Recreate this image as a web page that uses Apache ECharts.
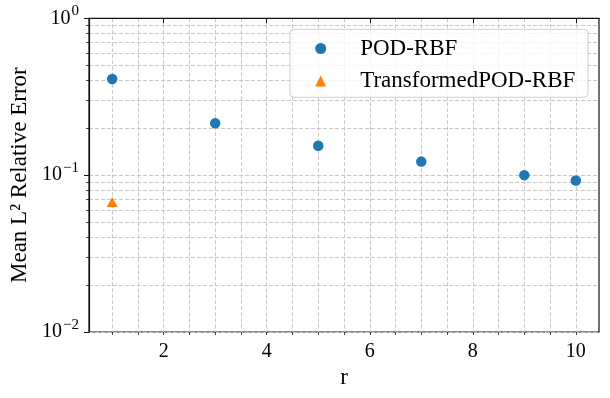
<!DOCTYPE html>
<html>
<head>
<meta charset="utf-8">
<script src="https://cdn.jsdelivr.net/npm/echarts@6/dist/echarts.min.js"></script>
<style>
  html, body { margin: 0; padding: 0; background: #fff; }
  #chart { width: 610px; height: 398px; }
</style>
</head>
<body>
<div id="chart"></div>
<script>
const rValues = [1, 3, 5, 7, 9, 10];
const podRbfError = [0.41, 0.214, 0.154, 0.122, 0.1, 0.0925];
const transformedR = [1];
const transformedError = [0.0675];
const xLabelTicks = [2, 4, 6, 8, 10];
const xMinorTicks = [1, 1.5, 2, 2.5, 3, 3.5, 4, 4.5, 5, 5.5, 6, 6.5, 7, 7.5, 8, 8.5, 9, 9.5, 10];
const yMinorTicks = [0.02, 0.03, 0.04, 0.05, 0.06, 0.07, 0.08, 0.09, 0.2, 0.3, 0.4, 0.5, 0.6, 0.7, 0.8, 0.9];

const FONT = 'Liberation Serif';
const gridDash = { color: '#c8c8c8', width: 1, type: [4, 2] };

const chart = echarts.init(document.getElementById('chart'));

// minor y grid on a helper value axis in log10 space
const yMinorPos = yMinorTicks.map(v => Math.log10(v));

const option = {
  animation: false,
  grid: { left: 87, right: 11, top: 18.3, bottom: 66, show: true, borderColor: '#111', borderWidth: 1.2, containLabel: false },
  xAxis: [
    {
      type: 'value', min: 0.55, max: 10.45, position: 'bottom',
      name: 'r', nameLocation: 'middle', nameGap: 34,
      nameTextStyle: { fontFamily: FONT, fontSize: 23, color: '#000' },
      axisLine: { show: true, lineStyle: { color: '#111', width: 1.2 } },
      axisTick: { show: true, length: 5, customValues: xLabelTicks, lineStyle: { color: '#111', width: 1 } },
      axisLabel: { customValues: xLabelTicks, margin: 10, fontFamily: FONT, fontSize: 20, color: '#000' },
      splitLine: { show: false }
    },
    {
      type: 'value', min: 0.55, max: 10.45, position: 'bottom', offset: 0,
      axisLine: { show: false },
      axisTick: { show: true, length: 3, customValues: xMinorTicks, lineStyle: { color: '#111', width: 0.8 } },
      axisLabel: { show: false },
      splitLine: { show: true, customValues: xMinorTicks, lineStyle: gridDash }
    }
  ],
  yAxis: [
    {
      type: 'log', logBase: 10, min: 0.01, max: 1, position: 'left',
      name: 'Mean L² Relative Error', nameLocation: 'middle', nameGap: 58,
      nameTextStyle: { fontFamily: FONT, fontSize: 23, color: '#000' },
      axisLine: { show: true, lineStyle: { color: '#111', width: 1.2 } },
      axisTick: { show: true, length: 5, lineStyle: { color: '#111', width: 1 } },
      axisLabel: {
        margin: 10,
        formatter: v => {
          const e = Math.round(Math.log10(v));
          return '{b|10}{s|' + (e < 0 ? '\u2212' + (-e) : e) + '}';
        },
        rich: {
          b: { fontFamily: FONT, fontSize: 20, color: '#000' },
          s: { fontFamily: FONT, fontSize: 15, color: '#000', padding: [0, 0, 14, 1] }
        }
      },
      splitLine: { show: true, lineStyle: gridDash }
    },
    {
      type: 'value', min: -2, max: 0, position: 'left', offset: 0,
      axisLine: { show: false },
      axisTick: { show: true, length: 3, customValues: yMinorPos, lineStyle: { color: '#111', width: 0.8 } },
      axisLabel: { show: false },
      splitLine: { show: true, customValues: yMinorPos, lineStyle: gridDash }
    }
  ],
  legend: {
    data: ['POD-RBF', 'TransformedPOD-RBF'],
    orient: 'vertical',
    left: 315.2, top: 37,
    padding: 0,
    itemWidth: 11, itemHeight: 11, itemGap: 9.6,
    symbolKeepAspect: true,
    textStyle: { fontFamily: FONT, fontSize: 23, lineHeight: 22, color: '#000', padding: [0, 0, 0, 29] },
    z: 10
  },
  graphic: [{
    type: 'rect', z: 5,
    shape: { x: 290, y: 29.3, width: 298, height: 68, r: 4 },
    style: { fill: 'rgba(255,255,255,0.8)', stroke: '#d0d0d0', lineWidth: 1 }
  }],
  series: [
    {
      name: 'POD-RBF', type: 'scatter', symbol: 'circle', symbolSize: 10.5,
      itemStyle: { color: '#1f77b4', opacity: 1 },
      data: rValues.map((r, i) => [r, podRbfError[i]])
    },
    {
      name: 'TransformedPOD-RBF', type: 'scatter', symbol: 'triangle', symbolSize: [11, 10],
      itemStyle: { color: '#ff7f0e', opacity: 1 },
      data: transformedR.map((r, i) => [r, transformedError[i]])
    }
  ]
};

chart.setOption(option);
</script>
</body>
</html>
